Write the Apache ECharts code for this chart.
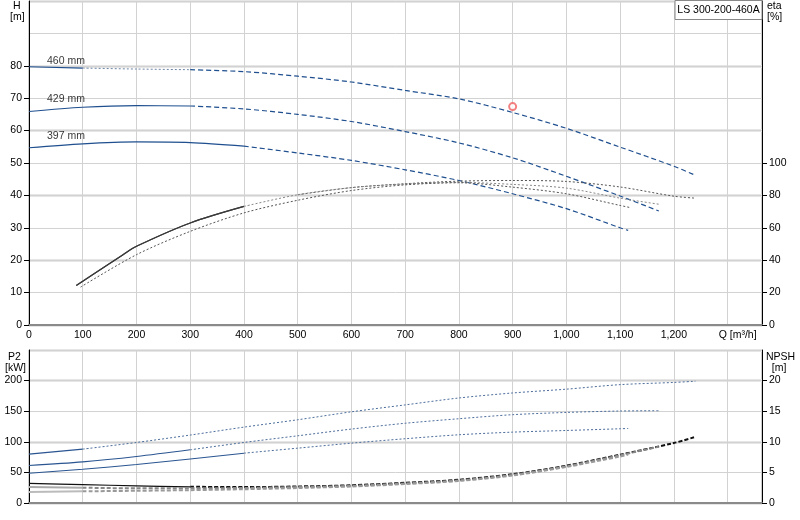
<!DOCTYPE html>
<html>
<head>
<meta charset="utf-8">
<title>LS 300-200-460A</title>
<script src="https://cdn.jsdelivr.net/npm/echarts@6/dist/echarts.min.js"></script>
</head>
<body style="margin:0">
<div id="container" style="width:800px;height:520px"></div>
<script type="text/javascript">
// impeller diameters
var diameters = ['460 mm', '429 mm', '397 mm'];

// tick labels shown on each axis
var hTicks = [0, 10, 20, 30, 40, 50, 60, 70, 80];
var etaTicks = [0, 20, 40, 60, 80, 100];
var p2Ticks = [0, 50, 100, 150, 200];
var npshTicks = [0, 5, 10, 15, 20];

// flow points Q [m3/h] per impeller
var q460 = [0, 100, 200, 300, 400, 500, 600, 700, 800, 900, 1000, 1100, 1200, 1240];
var q429 = [0, 100, 200, 300, 400, 500, 600, 700, 800, 900, 1000, 1100, 1172];
var q397 = [0, 100, 200, 300, 400, 500, 600, 700, 800, 900, 1000, 1100, 1115];

// head H [m]
var h460 = [79.7, 79.3, 79.0, 78.8, 78.2, 76.8, 75.0, 72.4, 69.8, 65.6, 60.7, 54.9, 49.0, 46.2];
var h429 = [65.9, 67.2, 67.7, 67.6, 66.7, 65.0, 62.8, 59.7, 56.2, 51.6, 45.9, 39.8, 35.2];
var h397 = [54.7, 55.9, 56.5, 56.3, 55.2, 53.1, 50.8, 47.9, 44.6, 40.5, 35.9, 30.0, 29.2];

// efficiency eta [%]
var qEta460 = [88, 175, 200, 300, 400, 500, 600, 700, 800, 900, 1000, 1100, 1200, 1240];
var eta460 = [24.4, 43.4, 48.6, 63.0, 73.2, 80.4, 84.8, 87.2, 88.8, 89.2, 88.6, 85.2, 79.5, 78.3];
var qEta429 = [88, 175, 200, 300, 400, 500, 600, 700, 800, 900, 1000, 1100, 1175];
var eta429 = [24.4, 43.4, 48.6, 63.0, 73.2, 80.4, 84.8, 87.0, 88.0, 86.8, 84.5, 78.3, 74.4];
var qEta397 = [96, 200, 300, 400, 500, 600, 700, 800, 900, 1000, 1100, 1120];
var eta397 = [23.4, 43.4, 57.8, 69.2, 77.0, 83.0, 86.5, 87.8, 85.1, 81.0, 73.8, 72.4];

// power P2 [kW]
var p460 = [79.8, 88.0, 98.9, 111, 124, 136, 149, 160.3, 171.6, 179.8, 186, 193.4, 197, 199];
var p429 = [61.2, 67.2, 76.0, 86.9, 98.9, 109.8, 120.8, 130.3, 137.7, 144.3, 148, 150.3, 150.8];
var p397 = [48.6, 55.2, 62.8, 72.0, 81.4, 89.6, 97.8, 105.0, 111.5, 115.8, 118.5, 121.3, 121.8];

// NPSH [m]
var n460 = [3.2, 3.0, 2.8, 2.65, 2.6, 2.7, 2.9, 3.3, 3.8, 4.7, 6.1, 7.9, 9.8, 10.8];
var n429 = [2.6, 2.5, 2.4, 2.4, 2.45, 2.6, 2.8, 3.2, 3.7, 4.6, 6.0, 7.8, 9.2];
var n397 = [1.8, 1.9, 2.0, 2.1, 2.25, 2.45, 2.7, 3.1, 3.6, 4.5, 5.9, 7.6, 7.9];

// duty point
var dutyQ = 900;
var dutyH = 67.4;

var title = 'LS 300-200-460A';

function pairs(qs, vs) {
    var out = [];
    for (var i = 0; i < qs.length; i++) out.push([qs[i], vs[i]]);
    return out;
}

var series = [];
// cuts: Q values where the line style changes, styles: one per piece
function addCurve(qs, vs, cuts, xi, yi, styles) {
    var all = pairs(qs, vs);
    var bounds = [-Infinity].concat(cuts, [Infinity]);
    for (var k = 0; k < styles.length; k++) {
        var part = all.filter(function (p) { return p[0] >= bounds[k] && p[0] <= bounds[k + 1]; });
        if (part.length < 2) continue;
        series.push({ type: 'line', xAxisIndex: xi, yAxisIndex: yi, data: part, showSymbol: false,
            smooth: 0.3, lineStyle: styles[k], silent: true, animation: false });
    }
}

var blue = '#1f4f8f';
var hSolid = { color: blue, width: 1.2 };
var hDot = { color: '#6f86a8', width: 1, type: [2, 2] };
var hDash = { color: blue, width: 1.2, type: [5, 3] };
addCurve(q460, h460, [100, 300], 0, 0, [hSolid, hDot, hDash]);
addCurve(q429, h429, [300], 0, 0, [hSolid, hDash]);
addCurve(q397, h397, [400], 0, 0, [hSolid, hDash]);

var etaSolid = { color: '#3a3a3a', width: 1.2 };
var etaDot = { color: '#555', width: 1, type: [2, 2] };
var etaDot2 = { color: '#888', width: 1, type: [2, 2] };
addCurve(qEta460, eta460, [450], 0, 1, [etaSolid, etaDot]);
addCurve(qEta429, eta429, [400], 0, 1, [etaSolid, etaDot2]);
addCurve(qEta397, eta397, [], 0, 1, [etaDot]);

var pSolid = { color: '#2a5591', width: 1.1 };
var pDot = { color: '#4d6e9c', width: 1, type: [2, 2] };
addCurve(q460, p460, [100], 1, 2, [pSolid, pDot]);
addCurve(q429, p429, [300], 1, 2, [pSolid, pDot]);
addCurve(q397, p397, [400], 1, 2, [pSolid, pDot]);

addCurve(q460, n460, [300], 1, 3, [{ color: '#111', width: 1.2 }, { color: '#111', width: 2, type: [4, 2] }]);
addCurve(q429, n429, [100], 1, 3, [{ color: '#aaa', width: 2 }, { color: '#888', width: 2, type: [4, 2] }]);
addCurve(q397, n397, [100], 1, 3, [{ color: '#bbb', width: 2 }, { color: '#999', width: 2, type: [4, 2] }]);

// diameter labels at curve starts
var labelOffsets = [[13, -6], [13, -12], [13, -12]];
var starts = [[q460[0], h460[0]], [q429[0], h429[0]], [q397[0], h397[0]]];
series.push({
    type: 'scatter', xAxisIndex: 0, yAxisIndex: 0, symbolSize: 0, silent: true, animation: false,
    data: starts.map(function (p, i) {
        return { value: p, label: { show: true, position: 'right', offset: labelOffsets[i],
            formatter: diameters[i], color: '#000', fontSize: 10.5, fontFamily: 'Liberation Sans' } };
    })
});

series.push({
    type: 'scatter', xAxisIndex: 0, yAxisIndex: 0, symbol: 'emptyCircle', symbolSize: 7,
    itemStyle: { color: '#f06060', borderWidth: 1 }, silent: true, animation: false,
    data: [[dutyQ, dutyH]]
});

var font = { fontSize: 10.5, color: '#000', fontFamily: 'Liberation Sans' };
var thin = { show: true, lineStyle: { color: '#d2d2d2', width: 1 } };
var thick = { show: true, lineStyle: { color: '#e6e6e6', width: 3 } };

function yAxis(grid, pos, max, step, ticks) {
    return {
        type: 'value', gridIndex: grid, position: pos, min: 0, max: max, interval: step,
        axisLine: { show: true, lineStyle: { color: '#000', width: 1 } },
        axisTick: { show: true, length: 5, customValues: ticks, lineStyle: { color: '#000' } },
        axisLabel: Object.assign({ margin: 7, customValues: ticks }, font),
        splitLine: { show: false }
    };
}
function gridAxis(grid, max, step, style) {
    return {
        type: 'value', gridIndex: grid, position: 'left', min: 0, max: max, interval: step,
        axisLine: { show: false }, axisTick: { show: false }, axisLabel: { show: false },
        splitLine: style
    };
}
function xAxis(grid, labels) {
    return {
        type: 'value', gridIndex: grid, min: 0, max: 1364, interval: 100,
        axisLine: { show: true, lineStyle: { color: '#8a8a8a', width: 2 } },
        axisTick: { show: false },
        axisLabel: labels ? Object.assign({
            margin: 5, showMaxLabel: false,
            formatter: function (v) { return v === 1300 ? '{q|Q [m³/h]}' : v.toLocaleString('en-US'); },
            rich: { q: { fontSize: 10.5, fontFamily: 'Liberation Sans', padding: [0, 0, 0, 20] } }
        }, font) : { show: false },
        splitLine: thin
    };
}

var myChart = echarts.init(document.getElementById('container'), null, { renderer: 'canvas' });
var option = {
    backgroundColor: '#fff',
    animation: false,
    grid: [
        { left: 29, right: 38, top: 1, height: 324, show: true, borderColor: '#9a9a9a', borderWidth: 1, backgroundColor: '#fff' },
        { left: 29, right: 38, top: 350, height: 153, show: true, borderColor: '#9a9a9a', borderWidth: 1, backgroundColor: '#fff' }
    ],
    xAxis: [xAxis(0, true), xAxis(1, false)],
    yAxis: [
        yAxis(0, 'left', 100, 10, hTicks),
        yAxis(0, 'right', 200, 20, etaTicks),
        yAxis(1, 'left', 250, 50, p2Ticks),
        yAxis(1, 'right', 25, 5, npshTicks),
        gridAxis(0, 100, 20, thick),
        gridAxis(1, 250, 100, thick),
        gridAxis(0, 100, 10, thin),
        gridAxis(1, 250, 50, thin)
    ],
    graphic: [
        { type: 'text', left: 10, top: 1, style: { text: ' H\n[m]', font: '10.5px Liberation Sans', lineHeight: 11, fill: '#000' } },
        { type: 'text', left: 767, top: 1, style: { text: 'eta\n[%]', font: '10.5px Liberation Sans', lineHeight: 11, fill: '#000' } },
        { type: 'text', left: 5, top: 352, style: { text: ' P2\n[kW]', font: '10.5px Liberation Sans', lineHeight: 11, fill: '#000' } },
        { type: 'text', left: 766, top: 352, style: { text: 'NPSH\n  [m]', font: '10.5px Liberation Sans', lineHeight: 11, fill: '#000' } },
        { type: 'rect', shape: { x: 675, y: 0.5, width: 87, height: 19 }, style: { fill: '#fff', stroke: '#888', lineWidth: 1 }, z: 100 },
        { type: 'text', x: 718.5, y: 10, z: 101, style: { text: title, font: '10.5px Liberation Sans', fill: '#000', textAlign: 'center', textVerticalAlign: 'middle' } }
    ],
    series: series
};
myChart.setOption(option, true);
</script>
</body>
</html>
